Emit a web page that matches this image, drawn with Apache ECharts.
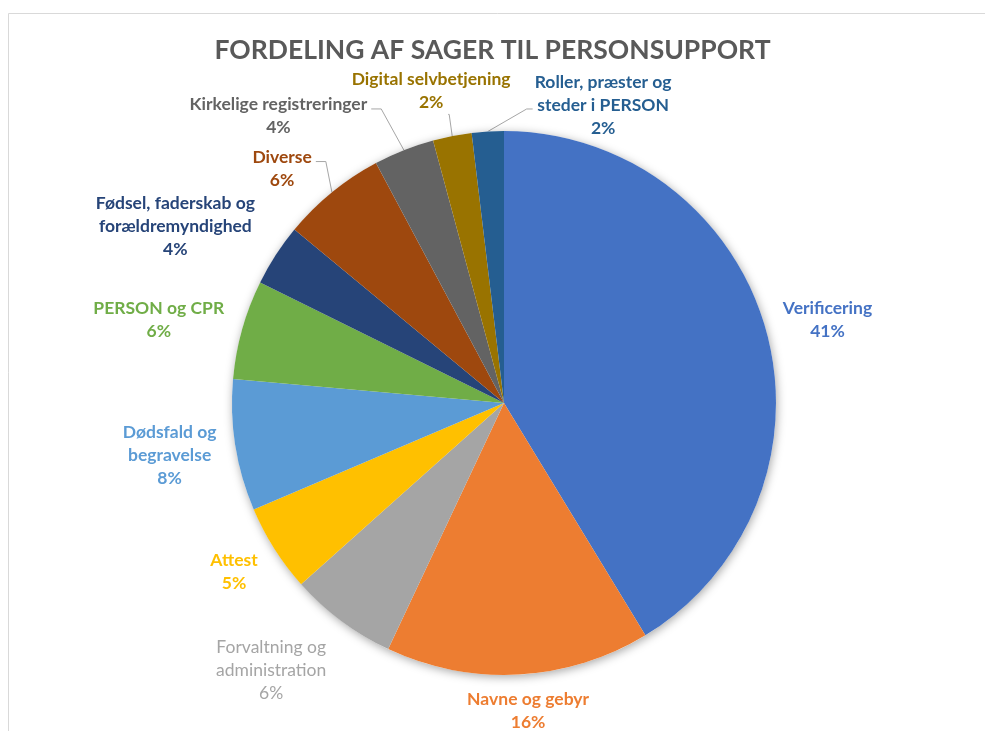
<!DOCTYPE html>
<html>
<head>
<meta charset="utf-8">
<script src="https://cdn.jsdelivr.net/npm/echarts@6/dist/echarts.min.js"></script>
<style>
    html, body { margin: 0; padding: 0; background: #fff; }
    #chart { width: 985px; height: 731px; }
</style>
</head>
<body>
<div id="chart"></div>
<script>
// categories, clockwise from 12 o'clock (line breaks as in the original labels)
var categories = [
    'Verificering',
    'Navne og gebyr',
    'Forvaltning og\nadministration',
    'Attest',
    'Dødsfald og\nbegravelse',
    'PERSON og CPR',
    'Fødsel, faderskab og\nforældremyndighed',
    'Diverse',
    'Kirkelige registreringer',
    'Digital selvbetjening',
    'Roller, præster og\nsteder i PERSON'
];
// share of cases in percent
var shares = [41.3, 15.7, 6.4, 5.2, 7.8, 5.9, 3.7, 6.2, 3.6, 2.3, 1.9];

var colors = ['#4472C4', '#ED7D31', '#A5A5A5', '#FFC000', '#5B9BD5', '#70AD47',
    '#264478', '#9E480E', '#636363', '#997300', '#255E91'];

// label placement tweaks: radial length, horizontal length2, leader line shown
var labelTweaks = [
    { len: 1, len2: 16, line: false },
    { len: 13, len2: 4, line: false },
    { len: 18, len2: 10, line: false, weight: 'normal' },
    { len: 9, len2: 9, line: false },
    { len: 10, len2: 9, line: false },
    { len: 1, len2: 17, line: false },
    { len: 1, len2: 20, line: false },
    { len: 1, len2: 21, line: true },
    { len: 12, len2: 72, line: true },
    { len: 23, len2: -6, line: true },
    { len: -8, len2: -121, line: true }
];

var CENTER = [504, 403];
var RADIUS = 272;

function clamp1(v) {
    return Math.max(-1, Math.min(1, v));
}

function leader(p0, cx, cy, w, h) {
    var left = cx - w / 2, right = cx + w / 2;
    var top = cy - h / 2, bottom = cy + h / 2;
    if (p0[0] > right + 4) {
        return [p0, [right + 14, cy - 7], [right + 4, cy - 7]];
    }
    if (p0[0] < left - 4) {
        return [p0, [left - 8, cy + 4], [left - 2, cy + 4]];
    }
    var ey = p0[1] > bottom ? bottom + 1 : top - 1;
    return [p0, [p0[0] - 3, ey], [p0[0] - 4, ey]];
}

var pieData = categories.map(function (name, i) {
    var t = labelTweaks[i];
    return {
        name: name,
        value: shares[i],
        itemStyle: { color: colors[i] },
        label: { color: colors[i], fontWeight: t.weight || 'bold' },
        labelLine: {
            length: t.len,
            length2: t.len2,
            lineStyle: { opacity: t.line ? 1 : 0 }
        }
    };
});

var total = shares.reduce(function (a, b) { return a + b; }, 0);

var chart = echarts.init(document.getElementById('chart'));
chart.setOption({
    backgroundColor: '#fff',
    animation: false,
    title: {
        text: 'FORDELING AF SAGER TIL PERSONSUPPORT',
        left: 'center',
        top: 32,
        textStyle: {
            fontFamily: 'Lato',
            fontSize: 26.5,
            fontWeight: 'bold',
            color: '#595959'
        }
    },
    graphic: [{
        type: 'rect',
        shape: { x: 8.5, y: 13.5, width: 990, height: 740 },
        style: { fill: 'none', stroke: '#D9D9D9', lineWidth: 1 },
        silent: true
    }],
    series: [{
        // soft shadow under the whole pie
        type: 'pie',
        silent: true,
        center: CENTER,
        radius: RADIUS,
        label: { show: false },
        labelLine: { show: false },
        itemStyle: {
            color: '#fff',
            shadowBlur: 10,
            shadowOffsetX: 1,
            shadowOffsetY: 2,
            shadowColor: 'rgba(0,0,0,0.35)'
        },
        data: [{ name: 'total', value: total }]
    }, {
        type: 'pie',
        center: CENTER,
        radius: RADIUS,
        startAngle: 90,
        clockwise: true,
        avoidLabelOverlap: false,
        itemStyle: { borderWidth: 0 },
        label: {
            show: true,
            position: 'outside',
            fontFamily: 'Lato',
            fontSize: 17.5,
            lineHeight: 23,
            formatter: function (p) {
                return p.name + '\n' + Math.round(p.percent) + '%';
            }
        },
        labelLine: {
            show: true,
            lineStyle: { color: '#A6A6A6', width: 1 }
        },
        labelLayout: function (p) {
            var t = labelTweaks[p.dataIndex];
            var pts = p.labelLinePoints;
            var p0 = pts[0], p2 = pts[pts.length - 1];
            var dx = p0[0] - CENTER[0], dy = p0[1] - CENTER[1];
            var d = Math.sqrt(dx * dx + dy * dy);
            dx /= d;
            dy /= d;
            var w = p.labelRect.width, h = p.labelRect.height;
            var cx = p2[0] + clamp1(1.5 * dx) * w / 2;
            var cy = p2[1] + clamp1(1.5 * dy) * h / 2;
            var out = { x: cx, y: cy, align: 'center', verticalAlign: 'middle' };
            if (t.line) {
                out.labelLinePoints = leader(p0, cx, cy, w, h);
            }
            return out;
        },
        data: pieData
    }]
});
</script>
</body>
</html>
